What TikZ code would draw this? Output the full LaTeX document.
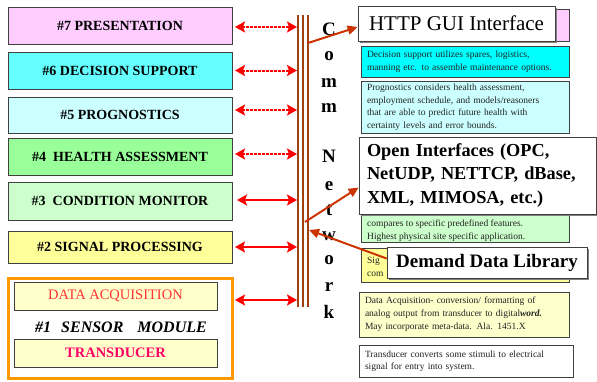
\documentclass[tikz,border=0pt]{standalone}
\usepackage{fontspec}
\setmainfont{Liberation Serif}
\usetikzlibrary{arrows.meta,shadows}
\definecolor{cseven}{HTML}{FFCCFF}
\definecolor{csix}{HTML}{66FFFF}
\definecolor{cdec}{HTML}{00FFFF}
\definecolor{cfive}{HTML}{CCFFFF}
\definecolor{cfour}{HTML}{99FF99}
\definecolor{cthree}{HTML}{CCFFCC}
\definecolor{ctwo}{HTML}{FFFF99}
\definecolor{cyel}{HTML}{FFFFCC}
\definecolor{corange}{HTML}{FF9900}
\definecolor{cred}{HTML}{FF0000}
\definecolor{cbus}{HTML}{A0400F}
\definecolor{cconn}{HTML}{CC3300}
\definecolor{credtext}{HTML}{FF3333}
\definecolor{ctrans}{HTML}{FF0066}
\definecolor{cborder}{HTML}{404040}
\definecolor{cshadow}{HTML}{808080}
\definecolor{ctext}{HTML}{222222}
\begin{document}
\begin{tikzpicture}[x=1pt,y=-1pt,
  lbox/.style={draw=cborder, line width=1pt, inner sep=0pt, minimum width=224pt,
    font=\fontsize{14}{16}\selectfont\bfseries},
  rbox/.style={draw=cborder, line width=0.8pt, inner xsep=6pt, inner ysep=0pt,
    align=left, font=\fontsize{9.5}{12.5}\selectfont, text=ctext},
  bigbox/.style={draw=cborder, line width=0.8pt, fill=white, inner xsep=8pt, inner ysep=0pt,
    align=left, drop shadow={shadow xshift=2pt, shadow yshift=-2pt, fill=cshadow, opacity=1}},
  redarr/.style={draw=cred, line width=2pt, {Stealth[length=10pt,width=11pt,inset=2pt]}-{Stealth[length=10pt,width=11pt,inset=2pt]}},
  dashmid/.style={dash pattern=on 2.5pt off 1.5pt},
  busline/.style={draw=cbus, line width=2pt},
  connarr/.style={draw=cconn, line width=2pt, -{Triangle[length=10pt,width=9pt]}},
  commletter/.style={font=\fontsize{19}{19}\selectfont\bfseries, anchor=base, inner sep=0pt},
  smalltext/.style={font=\fontsize{9.5}{12.5}\selectfont, text=ctext, anchor=base west, inner sep=0pt}
]
\useasboundingbox (0,0) rectangle (597,381);
\fill[white] (0,0) rectangle (597,381);

% left layer boxes
\node[lbox, fill=cseven, minimum height=37pt] (l7) at (120,25.5) {\#7 PRESENTATION};
\node[lbox, fill=csix, minimum height=37pt] (l6) at (120,70.5) {\#6 DECISION SUPPORT};
\node[lbox, fill=cfive, minimum height=36pt] (l5) at (120,115) {\#5 PROGNOSTICS};
\node[lbox, fill=cfour, minimum height=37pt] (l4) at (120,156.5) {\#4\ \ HEALTH ASSESSMENT};
\node[lbox, fill=cthree, minimum height=38pt] (l3) at (120,201) {\#3\ \ CONDITION MONITOR};
\node[lbox, fill=ctwo, minimum height=32pt] (l2) at (120,247) {\#2 SIGNAL PROCESSING};

% sensor module
\node[draw=corange, line width=3pt, minimum width=224pt, minimum height=100pt, inner sep=0pt] (frame) at (120,328) {};
\node[draw=cborder, line width=0.8pt, fill=cyel, minimum width=203pt, minimum height=28pt, inner sep=0pt,
  font=\fontsize{14.5}{16}\selectfont, text=credtext] (da) at (115.5,296) {DATA ACQUISITION};
\node[font=\fontsize{16}{18}\selectfont\bfseries\itshape, inner sep=0pt] (sm) at (121,327) {\#1\hspace{10pt}SENSOR\hspace{14pt}MODULE};
\node[draw=cborder, line width=0.8pt, fill=cyel, minimum width=203pt, minimum height=28pt, inner sep=0pt,
  font=\fontsize{14.5}{16}\selectfont\bfseries, text=ctrans] (tr) at (115.5,353) {TRANSDUCER};

% comm bus
\coordinate (busL) at (297,0);
\draw[busline] (298,15) -- (298,307);
\draw[busline] (303,15) -- (303,307);
\draw[busline] (308,15) -- (308,307);

% red arrows
\coordinate (a7) at (235,27);
\coordinate (a6) at (235,70.5);
\coordinate (a5) at (235,110);
\coordinate (a4) at (235,154);
\coordinate (a3) at (237,200);
\coordinate (a2) at (235,247);
\coordinate (a1) at (235,300);
\draw[redarr, dashmid] (a7) -- (a7 -| busL);
\draw[redarr, dashmid] (a6) -- (a6 -| busL);
\draw[redarr, dashmid] (a5) -- (a5 -| busL);
\draw[redarr, dashmid] (a4) -- (a4 -| busL);
\draw[redarr] (a3) -- (a3 -| busL);
\draw[redarr] (a2) -- (a2 -| busL);
\draw[redarr] (a1) -- (a1 -| busL);

% Comm Network letters
\node[commletter] (k1) at (329,35) {C};
\node[commletter] (k2) at (329,60) {o};
\node[commletter] (k3) at (329,87) {m};
\node[commletter] (k4) at (329,112) {m};
\node[commletter] (k5) at (329,162) {N};
\node[commletter] (k6) at (329,190) {e};
\node[commletter] (k7) at (329,215) {t};
\node[commletter] (k8) at (329,240) {w};
\node[commletter] (k9) at (329,264) {o};
\node[commletter] (k10) at (329,291) {r};
\node[commletter] (k11) at (329,318) {k};

% right-hand description boxes
\node[draw=cborder, line width=0.8pt, fill=cseven, minimum width=207pt, minimum height=32pt, inner sep=0pt] (pk) at (465.5,25) {};
\node[bigbox, minimum width=197pt, minimum height=35pt, font=\fontsize{21}{24}\selectfont] (http) at (456.5,23.5) {HTTP GUI Interface};

\node[rbox, fill=cdec, text width=196pt, minimum height=31pt, font=\fontsize{9.5}{13.5}\selectfont] (dec) at (465,61.5)
  {Decision support utilizes spares, logistics,\\manning etc. to assemble maintenance options.};
\node[rbox, fill=cfive, text width=196pt, minimum height=52pt] (prog) at (465,107)
  {Prognostics considers health assessment,\\employment schedule, and models/reasoners\\that are able to predict future health with\\certainty levels and error bounds.};

\node[rbox, fill=cthree, text width=196pt, minimum height=57pt] (hc) at (465,213.5) {};
\node[smalltext] (hct) at (367,226.5) {compares to specific predefined features.};
\node[smalltext] (hct2) at (367,239) {Highest physical site specific application.};

\node[bigbox, minimum width=237pt, minimum height=77pt, text width=221pt,
  font=\fontsize{18.3}{23.5}\selectfont\bfseries] (open) at (477.5,175.5)
  {Open Interfaces (OPC,\\NetUDP, NETTCP, dBase,\\XML, MIMOSA, etc.)};

\node[rbox, fill=ctwo, text width=196pt, minimum height=34pt] (sp) at (465,265) {};
\node[smalltext] (spt1) at (367,263) {Sig};
\node[smalltext] (spt2) at (367,276) {com};

\node[bigbox, minimum width=200pt, minimum height=31pt, font=\fontsize{19}{22}\selectfont\bfseries] (demand) at (487,262.5)
  {Demand Data Library};

\node[rbox, fill=cyel, text width=198pt, minimum height=45pt, font=\fontsize{9.5}{13}\selectfont] (dad) at (464,314.5)
  {Data Acquisition- conversion/ formatting of\\analog output from transducer to digital\textbf{\textit{word.}}\\May incorporate meta-data. Ala. 1451.X};
\node[rbox, fill=white, text width=202pt, minimum height=32pt, font=\fontsize{9.5}{12}\selectfont,
  drop shadow={shadow xshift=1pt, shadow yshift=-1pt, fill=cshadow, opacity=1}] (trd) at (466,361)
  {Transducer converts some stimuli to electrical\\signal for entry into system.};

% connectors from the network
\coordinate (b1) at (308,43);
\coordinate (b2) at (305,222);
\coordinate (b3) at (309,230);
\draw[connarr] (b1) -- ([yshift=-3.5pt]http.west);
\draw[connarr] (b2) -- ([yshift=-12pt]open.west);
\draw[connarr] ([yshift=4pt]demand.west) -- (b3);
\end{tikzpicture}
\end{document}
